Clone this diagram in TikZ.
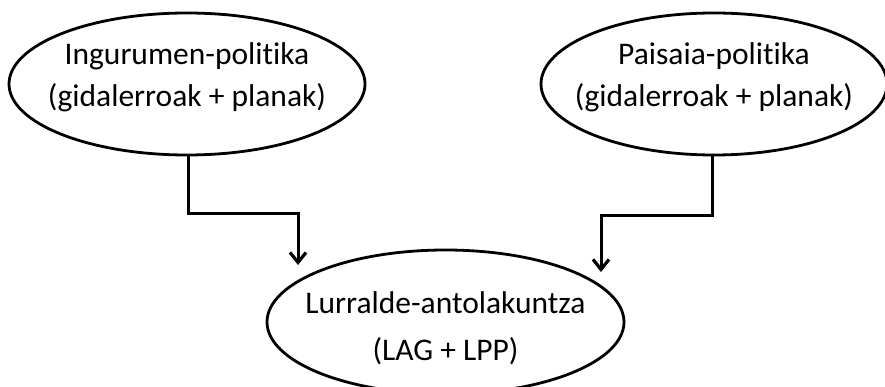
\documentclass[tikz,border=0pt]{standalone}
\usepackage{fontspec}
\setmainfont{Carlito}[Ligatures=NoCommon]
\usetikzlibrary{shapes.geometric,arrows.meta,positioning}
% two lines of text, kept out of the ellipse size; #1 lowers the last baseline
\newcommand{\bubbletext}[2]{\smash{\raisebox{-#1}{\makebox[0pt]{\begin{tabular}[b]{@{}c@{}}#2\end{tabular}}}}}
\tikzset
{
    bubble/.style = {ellipse, draw=black, line width=2.8pt, inner sep=0pt, font=\fontsize{31.5}{42.5}\selectfont},
    link/.style   = {->, line width=3pt}
}

\begin{document}
\begin{tikzpicture}[x=1pt,y=-1pt,>={Straight Barb[length=10pt,width=16pt,line width=3.2pt]}]
\useasboundingbox (0,0) rectangle (885,387);
\node [bubble, minimum width=356pt, minimum height=142pt] at (187,84) (ing) {\bubbletext{22.7pt}{Ingurumen-politika\\(gidalerroak + planak)}};
\node [bubble, minimum width=346pt, minimum height=142pt] at (714,84) (pai) {\bubbletext{22.7pt}{Paisaia-politika\\(gidalerroak + planak)}};
\node [bubble, minimum width=357pt, minimum height=144pt, font=\fontsize{31.5}{47.4}\selectfont] at (445.5,322) (lur) {\bubbletext{38.7pt}{Lurralde-antolakuntza\\(LAG + LPP)}};
\coordinate (ingend) at (298,265);
\coordinate (paiend) at (601,272);
\draw [link] ([xshift=1pt]ing.south) -- ++(0,57) -| (ingend);
\draw [link] ([xshift=-2pt]pai.south) -- ++(0,59) -| (paiend);
\end{tikzpicture}
\end{document}
